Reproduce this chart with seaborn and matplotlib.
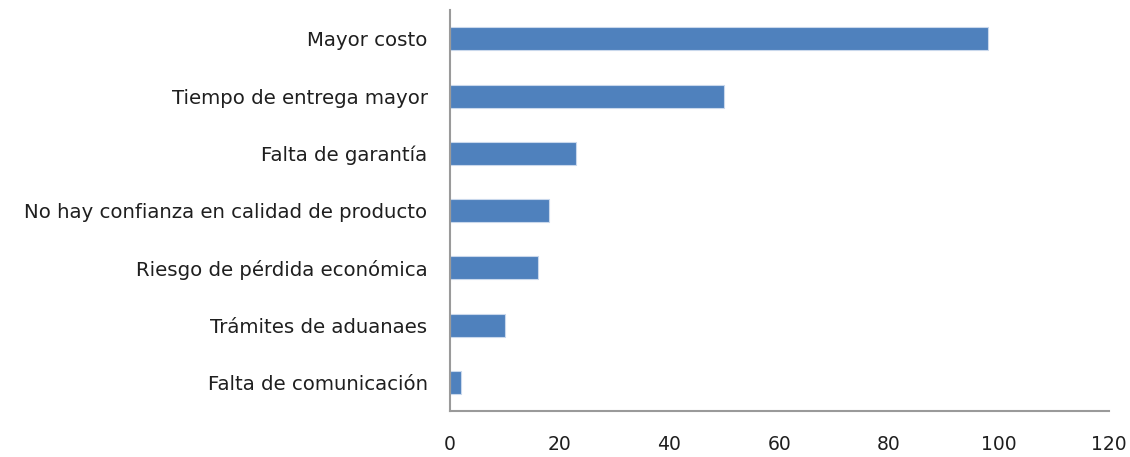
import matplotlib
matplotlib.use("Agg")
import matplotlib.pyplot as plt
import seaborn as sns
import pandas as pd

categories = [
    "Mayor costo",
    "Tiempo de entrega mayor",
    "Falta de garantía",
    "No hay confianza en calidad de producto",
    "Riesgo de pérdida económica",
    "Trámites de aduanaes",
    "Falta de comunicación",
]
values = [98, 50, 23, 18, 16, 10, 2]
x_ticks = [0, 20, 40, 60, 80, 100, 120]

df = pd.DataFrame({"motivo": categories, "valor": values})

sns.set_style("white")
plt.rcParams["font.family"] = ["DejaVu Sans"]

fig = plt.figure(figsize=(11.3, 4.57), dpi=100)
ax = fig.add_axes([0.398, 0.1007, 0.583, 0.877])

sns.barplot(data=df, x="valor", y="motivo", orient="h", color="#4F81BD",
            saturation=1, width=0.4, edgecolor="#c9d8ec", linewidth=0.8, ax=ax)

ax.set_xlim(0, 120)
ax.set_ylim(6.5, -0.5)
ax.set_xticks(x_ticks)
ax.set_xticklabels([str(t) for t in x_ticks])
ax.set_xlabel("")
ax.set_ylabel("")

for side in ["top", "right"]:
    ax.spines[side].set_visible(False)
for side in ["left", "bottom"]:
    ax.spines[side].set_color("#9a9a9a")
    ax.spines[side].set_linewidth(1.5)

ax.tick_params(axis="x", length=0, pad=17, labelsize=13.5, labelcolor="#1f1f1f")
ax.tick_params(axis="y", length=0, pad=16, labelsize=14.2, labelcolor="#1f1f1f")

fig.savefig("out.png", dpi=100)
